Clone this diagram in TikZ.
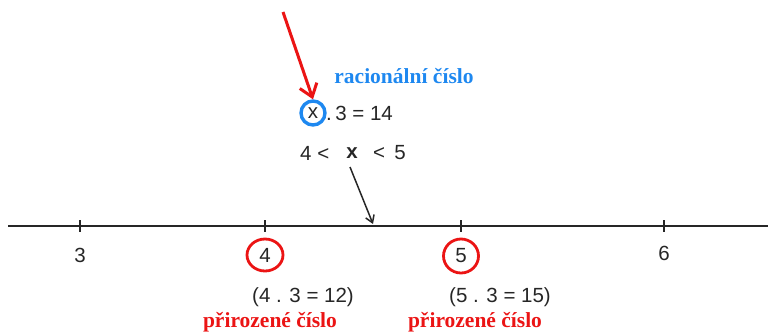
\documentclass[tikz,border=0pt]{standalone}
\usepackage{fontspec}
\setmainfont{Liberation Sans}
\newfontfamily\serifbold{Liberation Serif}[BoldFont={Liberation Serif Bold}]
\usetikzlibrary{arrows.meta}
\definecolor{myred}{RGB}{235,20,20}
\definecolor{myblue}{RGB}{30,136,240}
\begin{document}
\begin{tikzpicture}[x=1pt,y=-1pt,
  lbl/.style={font=\fontsize{20.5}{20.5}\selectfont, inner sep=0pt, text=black!85},
  nat/.style={font=\serifbold\bfseries\fontsize{21.5}{21.5}\selectfont, text=myred, inner sep=0pt},
  rac/.style={font=\serifbold\bfseries\fontsize{21.5}{21.5}\selectfont, text=myblue, inner sep=0pt},
  tickmark/.style={line width=1.3pt, black!85},
]
\useasboundingbox (0,0) rectangle (768,333);
% number line
\coordinate (L) at (8,226);
\coordinate (R) at (768,226);
\draw[line width=1.6pt, black!85] (L) -- (R);
\foreach \n/\x in {3/80,4/265,5/461,6/664}{
  \coordinate (t\n) at (\x,226);
  \draw[tickmark] (\x,220) -- (\x,232);
}
\node[lbl] (n3) at (80,255) {3};
\node[lbl] (n4) at (265,255) {4};
\node[lbl] (n5) at (461,256) {5};
\node[lbl] (n6) at (664,253) {6};
\draw[draw=myred, line width=2.8pt] (n4) ellipse [x radius=18, y radius=16];
\draw[draw=myred, line width=2.8pt] (n5) ellipse [x radius=17.5, y radius=17];
\node[lbl] (e4) at (303,297) {(4 . 3 = 12)};
\node[lbl] (e5) at (500,297) {(5 . 3 = 15)};
\node[nat] (p4) at (270,322) {přirozené číslo};
\node[nat] (p5) at (475,322) {přirozené číslo};
% top equations
\node[lbl, circle, draw=myblue, line width=3.4pt, minimum size=24pt] (xc) at (313,113) {x};
\node[lbl, anchor=west] (eq) at (326,113) {.\,3 = 14};
\node[rac] (rc) at (404,76) {racionální číslo};
\node[lbl, anchor=west] (ineq1) at (300,153) {4 <};
\node[lbl, font=\bfseries\fontsize{20.5}{20.5}\selectfont] (xb) at (352,153) {x};
\node[lbl, anchor=west] (ineq2) at (373,153) {<\, 5};
% arrows
\coordinate (rs) at (283,12);
\draw[myred, line width=3pt, -{Straight Barb[length=12pt,width=18pt,line width=3pt]}] (rs) -- (xc.north);
\coordinate (bs) at (350,167);
\coordinate (bt) at (373,224);
\draw[black!85, line width=1.5pt, -{Straight Barb[length=7pt,width=9pt]}] (bs) -- (bt);
\end{tikzpicture}
\end{document}
